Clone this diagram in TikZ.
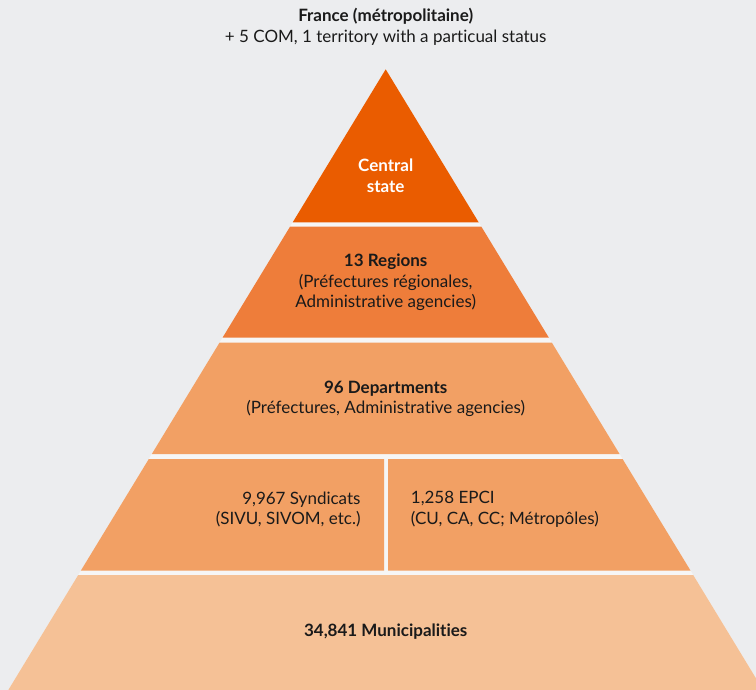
\documentclass[tikz,border=0pt]{standalone}
\usepackage{fontspec}
\setmainfont{Lato}[Ligatures={NoCommon}]
\definecolor{bg}{RGB}{236,237,239}
\definecolor{gapc}{RGB}{246,246,246}
\definecolor{lvA}{RGB}{234,92,0}
\definecolor{lvB}{RGB}{238,125,58}
\definecolor{lvC}{RGB}{242,160,100}
\definecolor{lvD}{RGB}{245,193,150}
\definecolor{txt}{RGB}{26,26,26}
\tikzset{
  lbl/.style={inner sep=0pt, text=txt, font=\fontsize{17}{20.5}\selectfont, align=center}
}
\begin{document}
\begin{tikzpicture}[x=1pt,y=-1pt]
\useasboundingbox (0,0) rectangle (756,690);
\clip (0,0) rectangle (756,690);
\fill[bg] (0,0) rectangle (756,690);
% gap colour under the whole pyramid
\fill[gapc] (385.7,69.3) -- (763.1,690) -- (8.3,690) -- cycle;
% bands
\fill[lvA] (385.7,69.3) -- (478.8,222.5) -- (292.6,222.5) -- cycle;
\fill[lvB] (290.0,226.7) -- (481.4,226.7) -- (548.9,337.7) -- (222.5,337.7) -- cycle;
\fill[lvC] (219.6,342.5) -- (551.8,342.5) -- (619.6,454) -- (151.8,454) -- cycle;
\fill[lvC] (148.8,459) -- (384,459) -- (384,570.7) -- (80.8,570.7) -- cycle;
\fill[lvC] (388,459) -- (622.6,459) -- (690.6,570.7) -- (388,570.7) -- cycle;
\fill[lvD] (78.2,575) -- (693.2,575) -- (763.1,690) -- (8.3,690) -- cycle;
% texts
\node[lbl, anchor=base] (t1) at (385.7,21.5) {\textbf{France (métropolitaine)}};
\node[lbl, anchor=base] (t2) at (385.7,42.5) {+ 5 COM, 1 territory with a particual status};
\node[lbl, text=white, font=\bfseries\fontsize{17}{21}\selectfont] (cs) at (385.7,175.5) {Central\\state};
\node[lbl] (rg) at (385.7,282.5) {\textbf{13 Regions}\\(Préfectures régionales,\\Administrative agencies)};
\node[lbl] (dp) at (385.7,399) {\textbf{96 Departments}\\(Préfectures, Administrative agencies)};
\node[lbl, align=right, anchor=east] (sy) at (360.7,509.5) {9,967 Syndicats\\(SIVU, SIVOM, etc.)};
\node[lbl, align=left, anchor=west] (ep) at (410.7,509.5) {1,258 EPCI\\(CU, CA, CC; Métropôles)};
\node[lbl] (mu) at (385.7,632) {\textbf{34,841 Municipalities}};
\end{tikzpicture}
\end{document}
